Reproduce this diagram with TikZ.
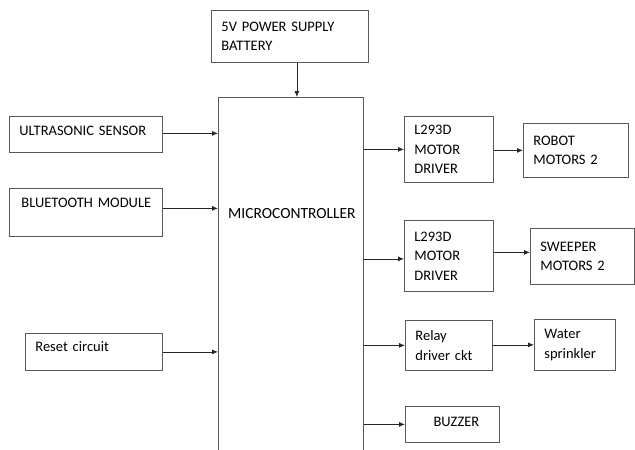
\documentclass[tikz,border=0pt]{standalone}
\usepackage{fontspec}
\setmainfont{Carlito}[WordSpace=0.55]
\usetikzlibrary{arrows.meta}

\begin{document}
\begin{tikzpicture}[
        x=1pt, y=-1pt,
        every node/.style={font=\fontsize{14.5}{19.5}\selectfont},
        blk/.style={
            draw=black!65,
            line width=0.8pt,
            anchor=north west,
            align=left,
            inner xsep=10pt,
            inner ysep=0pt
        },
        arr/.style={-{Latex[length=6pt,width=5pt]}, line width=0.8pt, black!85}
    ]
    \clip (0,0) rectangle (635,450);

    % blocks
    \node[blk, text width=137pt, minimum height=52pt] (power) at (211,10) {5V POWER SUPPLY\\BATTERY};
    \node[draw=black!65, line width=0.8pt, anchor=north west, minimum width=145pt, minimum height=370pt, inner sep=0pt] (mcu) at (218,97) {};
    \node[anchor=west, inner sep=0pt, font=\fontsize{15.5}{19.5}\selectfont] (mcutext) at (228,214) {MICROCONTROLLER};

    \node[blk, text width=133pt, minimum height=36pt, text depth=8pt] (ultra) at (9,116) {ULTRASONIC SENSOR};
    \node[blk, text width=133pt, minimum height=48pt, text depth=20pt] (blue) at (9,188) {\hspace{2pt}BLUETOOTH MODULE};
    \node[blk, text width=117pt, minimum height=37pt, text depth=10pt] (reset) at (25,333) {Reset circuit};

    \node[blk, text width=69pt, minimum height=66pt] (drv1) at (404,116) {L293D\\MOTOR\\DRIVER};
    \node[blk, text width=85pt, minimum height=54pt] (robot) at (523,123) {ROBOT\\MOTORS 2};
    \node[blk, text width=69pt, minimum height=71pt] (drv2) at (404,220) {L293D\\MOTOR\\DRIVER};
    \node[blk, text width=84pt, minimum height=56pt] (sweep) at (530,228) {SWEEPER\\MOTORS 2};
    \node[blk, text width=67pt, minimum height=50pt] (relay) at (405,320) {Relay\\driver ckt};
    \node[blk, text width=61pt, minimum height=51pt] (water) at (534,319) {Water\\sprinkler};
    \node[blk, text width=74pt, minimum height=36pt, text depth=6pt, align=center] (buzzer) at (405,406) {\hspace{8pt}BUZZER};

    % connections
    \draw[arr] ([xshift=7pt]power.south) -- ([xshift=7pt]power.south |- mcu.north);
    \draw[arr] ([yshift=1pt]ultra.east) -- ([yshift=1pt]ultra.east -| mcu.west);
    \draw[arr] ([yshift=4pt]blue.east) -- ([yshift=4pt]blue.east -| mcu.west);
    \draw[arr] (reset.east) -- (reset.east -| mcu.west);
    \draw[arr] (mcu.east |- drv1.west) -- (drv1.west);
    \draw[arr] (drv1.east |- robot.west) -- (robot.west);
    \draw[arr] ([yshift=-3pt]mcu.east |- drv2.west) -- ([yshift=-3pt]drv2.west);
    \draw[arr] ([yshift=4pt]drv2.east |- sweep.west) -- ([yshift=4pt]sweep.west);
    \draw[arr] (mcu.east |- relay.west) -- (relay.west);
    \draw[arr] (relay.east |- water.west) -- (water.west);
    \draw[arr] (mcu.east |- buzzer.west) -- (buzzer.west);
\end{tikzpicture}
\end{document}
